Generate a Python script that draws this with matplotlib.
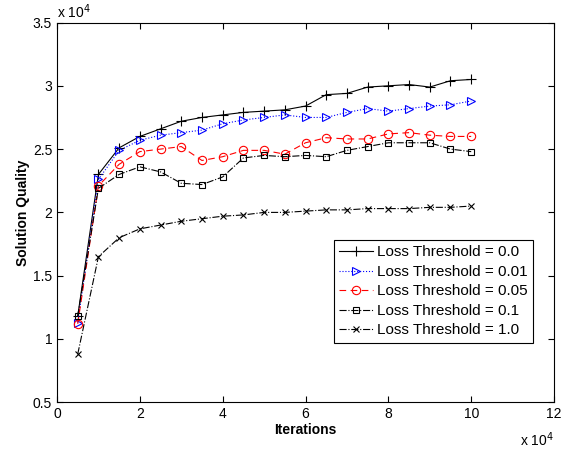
import matplotlib.pyplot as plt
import numpy as np

plt.rcParams['font.family'] = ['Liberation Sans', 'DejaVu Sans']

# iterations and solution quality, both in units of 10^4
iteracoes = [0.5, 1, 1.5, 2, 2.5, 3, 3.5, 4, 4.5, 5, 5.5, 6, 6.5, 7, 7.5, 8, 8.5, 9, 9.5, 10]

q_00 = [1.18, 2.30, 2.51, 2.60, 2.66, 2.72, 2.75, 2.77, 2.79, 2.80,
        2.81, 2.84, 2.93, 2.94, 2.99, 3.00, 3.01, 2.99, 3.04, 3.05]
q_001 = [1.13, 2.26, 2.49, 2.57, 2.61, 2.63, 2.65, 2.70, 2.73, 2.75,
         2.77, 2.75, 2.75, 2.79, 2.82, 2.80, 2.82, 2.84, 2.85, 2.88]
q_005 = [1.12, 2.21, 2.38, 2.48, 2.50, 2.52, 2.41, 2.44, 2.49, 2.49,
         2.46, 2.55, 2.59, 2.58, 2.58, 2.62, 2.63, 2.61, 2.60, 2.60]
q_01 = [1.18, 2.19, 2.30, 2.36, 2.32, 2.23, 2.22, 2.28, 2.43, 2.45,
        2.44, 2.45, 2.44, 2.49, 2.52, 2.55, 2.55, 2.55, 2.50, 2.48]
q_10 = [0.88, 1.65, 1.80, 1.87, 1.90, 1.93, 1.95, 1.97, 1.98, 2.00,
        2.00, 2.01, 2.02, 2.02, 2.03, 2.03, 2.03, 2.04, 2.04, 2.05]

rotulos = ['Loss Threshold = 0.0', 'Loss Threshold = 0.01', 'Loss Threshold = 0.05',
           'Loss Threshold = 0.1', 'Loss Threshold = 1.0']

estilos = [
    dict(color='black', linestyle='-', marker='+', markersize=7),
    dict(color='blue', linestyle=':', marker='>', markersize=6, mfc='none'),
    dict(color='red', linestyle='--', marker='o', markersize=6, mfc='none', dashes=(6, 4)),
    dict(color='black', linestyle='-.', marker='s', markersize=5, mfc='none'),
    dict(color='black', linestyle='-.', marker='x', markersize=5),
]

fig = plt.figure(figsize=(5.7, 4.5), dpi=100)
ax = fig.add_axes([0.1, 0.106, 0.872, 0.844])

for serie, rotulo, estilo in zip([q_00, q_001, q_005, q_01, q_10], rotulos, estilos):
    ax.plot(iteracoes, serie, linewidth=0.8, markeredgewidth=0.8, label=rotulo, **estilo)

ax.set_xlim(0, 12)
ax.set_ylim(0.5, 3.5)
ax.set_xticks(np.arange(0, 13, 2))
ax.set_yticks(np.arange(0.5, 3.6, 0.5))
ax.set_xticklabels(['%g' % v for v in np.arange(0, 13, 2)])
ax.set_yticklabels(['%g' % v for v in np.arange(0.5, 3.6, 0.5)])
ax.tick_params(direction='in', top=True, right=True, length=4, labelsize=10)
for sp in ax.spines.values():
    sp.set_linewidth(0.8)

ax.set_xlabel('Iterations', fontweight='bold', fontsize=10, labelpad=1)
ax.set_ylabel('Solution Quality', fontweight='bold', fontsize=10, labelpad=2)

# multiplicadores dos eixos
ax.text(0, 1.005, r'x 10$^4$', transform=ax.transAxes, fontsize=10, va='bottom', ha='left')
ax.text(1.0, -0.075, r'x 10$^4$', transform=ax.transAxes, fontsize=10, va='top', ha='right')

leg = ax.legend(loc='center right', bbox_to_anchor=(0.958, 0.292), fontsize=11,
                fancybox=False, framealpha=1, edgecolor='black', borderpad=0.35,
                labelspacing=0.36, handlelength=2.2, handletextpad=0.3, borderaxespad=0)
leg.get_frame().set_linewidth(0.8)

plt.savefig('out.png', dpi=100)
